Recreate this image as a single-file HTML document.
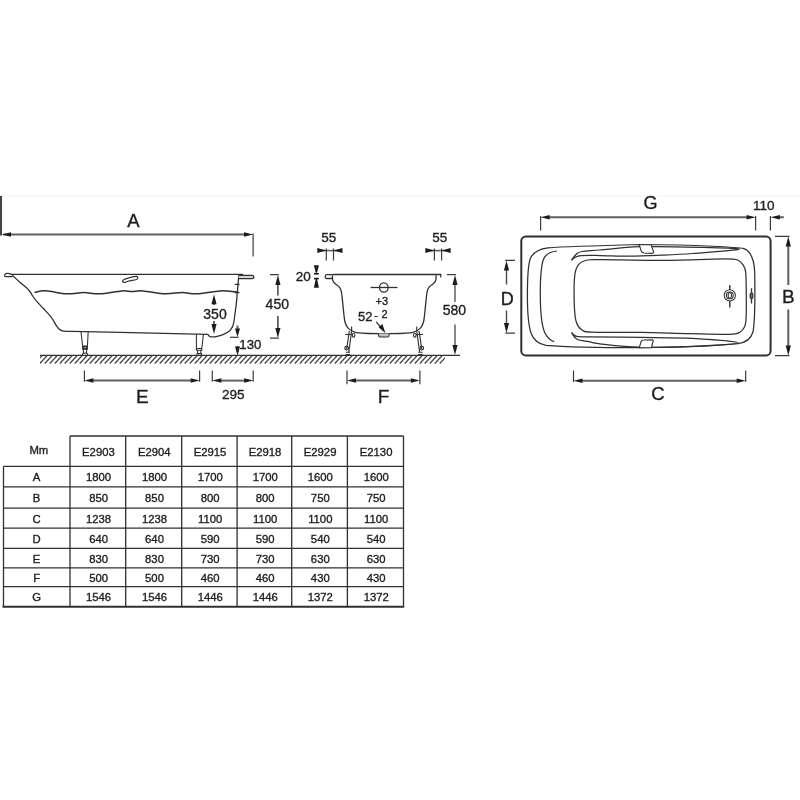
<!DOCTYPE html>
<html><head><meta charset="utf-8"><style>
html,body{margin:0;padding:0;background:#fff;width:800px;height:800px;overflow:hidden}
svg{display:block}
text{font-family:"Liberation Sans",sans-serif;fill:#1e1e1e;stroke:#1e1e1e;stroke-width:0.35}
.ln{fill:none;stroke:#303030;stroke-linecap:butt;stroke-linejoin:round}
.dm{fill:none;stroke:#606060;stroke-linecap:butt;stroke-linejoin:miter}
.fill{fill:#1c1c1c;stroke:none}
.ex{fill:none;stroke:#3c3c3c;stroke-width:1.2;stroke-linecap:square}
svg{filter:grayscale(100%)}
</style></head><body>
<svg width="800" height="800" viewBox="0 0 800 800">
<path d="M0 196.2H800" stroke="#f6f6f6" stroke-width="1.5" fill="none"/>
<g class="ln">
<path d="M1 196V235.5" stroke-width="2.1" style="stroke:#454545"/>
<path class="dm" d="M3 234.6H245" stroke-width="2"/><path class="ex" d="M253.1 233.8V256"/>
</g>
<g class="fill"><polygon points="2.00,234.60 11.00,232.35 11.00,236.85"/><polygon points="253.00,234.60 244.00,232.35 244.00,236.85"/></g>
<text x="133.3" y="227" font-size="18.5" text-anchor="middle">A</text>
<g class="ln" stroke-width="1.3">
<path d="M12 274.4H243"/>
<path d="M12.6 276.5C9 276.8 6 277 4.8 276.2C3.8 275.2 5.5 273.4 7.5 273.4C9.5 273.4 11 274.3 12 274.4"/>
<path d="M12.50 275.30C13.67 276.42 17.17 279.93 19.50 282.00C21.83 284.07 24.83 286.20 26.50 287.70C28.17 289.20 28.42 289.53 29.50 291.00C30.58 292.47 31.75 294.72 33.00 296.50C34.25 298.28 35.32 299.73 37.00 301.70C38.68 303.67 41.05 306.12 43.10 308.30C45.15 310.48 47.65 312.88 49.30 314.80C50.95 316.72 51.83 318.00 53.00 319.80C54.17 321.60 55.17 323.97 56.30 325.60C57.43 327.23 58.50 328.67 59.80 329.60C61.10 330.53 62.07 330.90 64.10 331.20C66.13 331.50 70.68 331.37 72.00 331.40L120 332.3L207.6 334.4C208.9 335 209 336.9 211 336.9L215 336.9C220 336.2 226 333.8 230 330.6C232.4 328 233.4 326 233.9 322L236.3 304L238.8 275.4"/>
<path d="M238.8 275.3H251.8C254.3 275.3 254.6 278.7 252 278.7H238.9" style="fill:#d8d8d8"/>
<path d="M34.60 292.30C36.45 292.05 40.35 290.55 45.70 290.80C51.05 291.05 60.35 293.52 66.70 293.80C73.05 294.08 78.32 292.50 83.80 292.50C89.28 292.50 93.25 294.07 99.60 293.80C105.95 293.53 116.50 291.27 121.90 290.90C127.30 290.53 128.50 291.60 132.00 291.60C135.50 291.60 137.37 290.53 142.90 290.90C148.43 291.27 158.65 293.53 165.20 293.80C171.75 294.07 176.95 292.50 182.20 292.50C187.45 292.50 190.35 294.07 196.70 293.80C203.05 293.53 213.50 291.17 220.30 290.90C227.10 290.63 234.63 291.98 237.50 292.20" stroke-width="1.5"/>
<path d="M234.8 284.4H239.6M234.6 292.5H239.4"/>
<path d="M122.6 281.5C122.2 280 125 279 128 278.2C131 277.2 134 276.2 136.5 276.4C138.3 276.6 138.3 278.6 136.3 279.5C134 280.4 130.5 280.4 128 281.3C126 282.2 123.2 283 122.6 281.5Z" stroke-width="1.2"/>
<path d="M81 331.6L82.6 346M88.2 331.6L87.4 346M82.6 346H87.4V349.2H82.6ZM83.4 349.2V353M86.6 349.2V353M82.2 355.2C82.2 353.6 83 353 85 353C87 353 87.8 353.6 87.8 355.2" stroke-width="1.05"/>
<rect x="83" y="346.6" width="4" height="2" fill="#bbb"/>
<path d="M196.4 334.6V350M203.4 334.6L201.6 350M196.4 348.4H201.8V350.3H196.4ZM197.6 350.3V353.6M200.8 350.3V353.6M197 355.2V353.6H201.5V355.2" stroke-width="1.05"/>
</g>
<g class="dm" stroke-width="1.6" style="stroke:#444"><path d="M214 300V305M214 321V326"/></g>
<g class="fill"><polygon points="214.00,294.30 211.40,304.30 216.60,304.30"/><polygon points="214.00,334.00 211.40,324.00 216.60,324.00"/></g>
<text x="215" y="318.6" font-size="14" text-anchor="middle">350</text>
<g class="dm" stroke-width="2"><path d="M237.5 325.5V333M237.5 346V352"/></g><path class="ex" d="M230.6 337.3H238.1"/>
<g class="fill"><polygon points="237.50,337.00 235.00,328.50 240.00,328.50"/><polygon points="237.50,356.00 237.50,356.01 237.50,356.01"/><polygon points="237.50,355.50 235.00,346.50 240.00,346.50"/></g>
<text x="239.3" y="348.8" font-size="13.2">130</text>
<g class="dm" stroke-width="1.6" style="stroke:#505050"><path d="M277.9 280V295.5M277.9 316V333"/></g><path class="ex" d="M270.6 274.6H278.2M270.6 338.2H278.2"/>
<g class="fill"><polygon points="277.90,275.00 275.30,285.00 280.50,285.00"/><polygon points="277.90,338.00 275.30,328.00 280.50,328.00"/></g>
<text x="277.3" y="308.7" font-size="14" text-anchor="middle">450</text>
<g class="ln"><path d="M40 355.4H460" stroke-width="1.3"/></g>
<clipPath id="hc"><rect x="40" y="355" width="405" height="10"/></clipPath>
<g fill="none" stroke="#454545" stroke-width="1.25" clip-path="url(#hc)"><path d="M42.0 355.8L34.8 363.5M47.0 355.8L39.8 363.5M52.0 355.8L44.8 363.5M57.0 355.8L49.8 363.5M62.0 355.8L54.8 363.5M67.0 355.8L59.8 363.5M72.0 355.8L64.8 363.5M77.0 355.8L69.8 363.5M82.0 355.8L74.8 363.5M87.0 355.8L79.8 363.5M92.0 355.8L84.8 363.5M97.0 355.8L89.8 363.5M102.0 355.8L94.8 363.5M107.0 355.8L99.8 363.5M112.0 355.8L104.8 363.5M117.0 355.8L109.8 363.5M122.0 355.8L114.8 363.5M127.0 355.8L119.8 363.5M132.0 355.8L124.8 363.5M137.0 355.8L129.8 363.5M142.0 355.8L134.8 363.5M147.0 355.8L139.8 363.5M152.0 355.8L144.8 363.5M157.0 355.8L149.8 363.5M162.0 355.8L154.8 363.5M167.0 355.8L159.8 363.5M172.0 355.8L164.8 363.5M177.0 355.8L169.8 363.5M182.0 355.8L174.8 363.5M187.0 355.8L179.8 363.5M192.0 355.8L184.8 363.5M197.0 355.8L189.8 363.5M202.0 355.8L194.8 363.5M207.0 355.8L199.8 363.5M212.0 355.8L204.8 363.5M217.0 355.8L209.8 363.5M222.0 355.8L214.8 363.5M227.0 355.8L219.8 363.5M232.0 355.8L224.8 363.5M237.0 355.8L229.8 363.5M242.0 355.8L234.8 363.5M247.0 355.8L239.8 363.5M252.0 355.8L244.8 363.5M257.0 355.8L249.8 363.5M262.0 355.8L254.8 363.5M267.0 355.8L259.8 363.5M272.0 355.8L264.8 363.5M277.0 355.8L269.8 363.5M282.0 355.8L274.8 363.5M287.0 355.8L279.8 363.5M292.0 355.8L284.8 363.5M297.0 355.8L289.8 363.5M302.0 355.8L294.8 363.5M307.0 355.8L299.8 363.5M312.0 355.8L304.8 363.5M317.0 355.8L309.8 363.5M322.0 355.8L314.8 363.5M327.0 355.8L319.8 363.5M332.0 355.8L324.8 363.5M337.0 355.8L329.8 363.5M342.0 355.8L334.8 363.5M347.0 355.8L339.8 363.5M352.0 355.8L344.8 363.5M357.0 355.8L349.8 363.5M362.0 355.8L354.8 363.5M367.0 355.8L359.8 363.5M372.0 355.8L364.8 363.5M377.0 355.8L369.8 363.5M382.0 355.8L374.8 363.5M387.0 355.8L379.8 363.5M392.0 355.8L384.8 363.5M397.0 355.8L389.8 363.5M402.0 355.8L394.8 363.5M407.0 355.8L399.8 363.5M412.0 355.8L404.8 363.5M417.0 355.8L409.8 363.5M422.0 355.8L414.8 363.5M427.0 355.8L419.8 363.5M432.0 355.8L424.8 363.5M437.0 355.8L429.8 363.5M442.0 355.8L434.8 363.5M447.0 355.8L439.8 363.5"/></g>
<g class="dm" stroke-width="2"><path d="M90 380.6H194"/></g><path class="ex" d="M84.4 371.2V381.2M199.6 371.2V381.2"/>
<g class="fill"><polygon points="84.40,380.60 93.40,378.35 93.40,382.85"/><polygon points="199.70,380.60 190.70,378.35 190.70,382.85"/></g>
<text x="142.3" y="402.8" font-size="19" text-anchor="middle">E</text>
<g class="dm" stroke-width="2"><path d="M218 380.6H247"/></g><path class="ex" d="M212.3 371.2V381.2M253.2 371.2V381.2"/>
<g class="fill"><polygon points="212.30,380.60 221.30,378.35 221.30,382.85"/><polygon points="253.20,380.60 244.20,378.35 244.20,382.85"/></g>
<text x="233.2" y="399.4" font-size="13.5" text-anchor="middle">295</text>
<g class="dm" stroke-width="1.6"><path d="M321.3 250.6H338.5"/></g><path class="ex" d="M326.3 249V260M333.5 249V260"/>
<g class="fill"><polygon points="326.30,250.60 317.30,248.10 317.30,253.10"/><polygon points="333.50,250.60 342.50,248.10 342.50,253.10"/></g>
<text x="328.7" y="241.9" font-size="13.5" text-anchor="middle">55</text>
<g class="dm" stroke-width="1.6"><path d="M429.4 250.6H446.6"/></g><path class="ex" d="M434.4 249V260M441.6 249V260"/>
<g class="fill"><polygon points="434.40,250.60 425.40,248.10 425.40,253.10"/><polygon points="441.60,250.60 450.60,248.10 450.60,253.10"/></g>
<text x="439.7" y="241.9" font-size="13.5" text-anchor="middle">55</text>
<g class="fill"><polygon points="313.9,265.2 318.9,265.2 317.1,272.8 315.7,272.8"/><rect x="314" y="273" width="4.8" height="1.6"/><rect x="314" y="277.8" width="4.8" height="1.6"/><polygon points="315.7,279 317.1,279 318.9,287.7 313.9,287.7"/></g>
<text x="303.3" y="281.1" font-size="13.5" text-anchor="middle">20</text>
<g class="ln" stroke-width="1.3">
<path d="M332.5 274.5H440.8V277.5"/>
<path d="M332.5 274.6H326.5C324.8 274.6 324.8 278.5 326.5 278.5H333"/>
<path d="M332.40 275.20C332.47 276.08 332.30 279.05 332.80 280.50C333.30 281.95 334.27 282.77 335.40 283.90C336.53 285.03 338.60 285.98 339.60 287.30C340.60 288.62 340.90 289.38 341.40 291.80C341.90 294.22 342.18 298.02 342.60 301.80C343.02 305.58 343.47 311.00 343.90 314.50C344.33 318.00 344.50 320.53 345.20 322.80C345.90 325.07 346.77 326.65 348.10 328.10C349.43 329.55 351.50 330.70 353.20 331.50C354.90 332.30 355.83 332.57 358.30 332.90C360.77 333.23 363.68 333.38 368.00 333.50C372.32 333.62 378.78 333.60 384.20 333.60C389.62 333.60 396.17 333.62 400.50 333.50C404.83 333.38 407.73 333.23 410.20 332.90C412.67 332.57 413.60 332.30 415.30 331.50C417.00 330.70 419.07 329.55 420.40 328.10C421.73 326.65 422.60 325.07 423.30 322.80C424.00 320.53 424.17 318.00 424.60 314.50C425.03 311.00 425.48 305.58 425.90 301.80C426.32 298.02 426.60 294.22 427.10 291.80C427.60 289.38 427.90 288.62 428.90 287.30C429.90 285.98 431.97 285.03 433.10 283.90C434.23 282.77 435.20 281.95 435.70 280.50C436.20 279.05 436.03 276.08 436.10 275.20"/>
<path d="M378.3 333.6L378.8 336.4C379 337 379.5 337 380 337H387.5C388.2 337 388.6 337 388.8 336.4L389.3 333.6" stroke-width="1.1" style="fill:#c4c4c4"/>
</g>
<g class="ln" stroke-width="1.3"><path d="M370.6 287.5H397.5"/><ellipse cx="383.8" cy="287.5" rx="4.3" ry="4.6"/></g>
<text x="381.8" y="305" font-size="11" text-anchor="middle">+3</text>
<text x="365.2" y="320.6" font-size="13" text-anchor="middle">52</text>
<text x="376.2" y="318.5" font-size="11" text-anchor="middle">-</text>
<text x="384.5" y="318" font-size="11" text-anchor="middle">2</text>
<g class="ln" stroke-width="1.2"><path d="M376.2 321.9L381 327.5"/></g>
<g class="fill"><polygon points="385.5,333.2 378.6,327.2 382.4,324.1"/></g>
<g class="ln" stroke-width="1.15">
<path d="M416.8 331L419.6 352M419.1 331L421.8 349.5M416.0 334.5H423.2 M416.8 326.5V331.5M418.4 352.2H422.6 M418.2 354.6H422.8"/><ellipse cx="414.8" cy="335.2" rx="1.3" ry="2"/><circle cx="421.8" cy="348.2" r="1.8"/>
<path d="M351.6 331L348.8 352M349.3 331L346.6 349.5M352.4 334.5H345.2 M351.6 326.5V331.5M350.0 352.2H345.8 M350.2 354.6H345.6"/><ellipse cx="353.6" cy="335.2" rx="1.3" ry="2"/><circle cx="346.6" cy="348.2" r="1.8"/>
</g>
<g class="dm" stroke-width="2" style="stroke:#888"><path d="M455 280V302M455 324.4V350"/></g><path class="ex" d="M447.5 274.6H455.4"/>
<g class="fill"><polygon points="455.00,275.00 452.40,285.00 457.60,285.00"/><polygon points="455.00,355.00 452.40,345.00 457.60,345.00"/></g>
<text x="454.4" y="315" font-size="14" text-anchor="middle">580</text>
<g class="dm" stroke-width="2"><path d="M352 380.5H414"/></g><path class="ex" d="M347 371.2V383.6M419.9 371.2V383.6"/>
<g class="fill"><polygon points="347.00,380.50 356.00,378.25 356.00,382.75"/><polygon points="419.90,380.50 410.90,378.25 410.90,382.75"/></g>
<text x="383.6" y="402.7" font-size="19" text-anchor="middle">F</text>
<g class="dm" stroke-width="2"><path d="M546 217.2H750M776 217.2H783.8"/></g><path class="ex" d="M540.6 230V216.6M755.6 230V216.6M770.4 230V216.6"/>
<g class="fill"><polygon points="540.60,217.20 549.60,214.95 549.60,219.45"/><polygon points="755.60,217.20 746.60,214.95 746.60,219.45"/><polygon points="770.40,217.20 779.90,214.95 779.90,219.45"/></g>
<text x="650.6" y="209.4" font-size="18" text-anchor="middle">G</text>
<text x="763.7" y="210" font-size="13.5" text-anchor="middle">110</text>
<rect class="ln" x="521.3" y="236.6" width="249.3" height="118.8" rx="4.5" stroke-width="2"/>
<g class="ln" stroke-width="1.25">
<path d="M640 244.5C600 245.6 565 246.6 548 247.8C539 248.8 533.5 252 530.5 258C528 264 527.4 280 527.4 296C527.4 312 528 324 531 333C533.5 340 538 344 546 345.3C560 346.5 600 347.6 640 347.6C680 347.2 715 345.8 738 343.6C746 342.6 751 338.5 753 332C754.8 322 755 290 754.7 272C754.2 260 751 251.5 744 248.6C738 247.3 700 245 640 244.5Z"/>
<path d="M557 251C550 251.7 546 254 543.8 258.5C541 265 540.3 278 540.3 293C540.3 310 541.5 325 544.6 332.2C547 337.5 550 340 554.2 341.8"/>
<path d="M571.40 260.40C572.17 259.42 574.23 255.98 576.00 254.50C577.77 253.02 578.00 252.25 582.00 251.50C586.00 250.75 590.33 250.80 600.00 250.00C609.67 249.20 623.33 247.15 640.00 246.70C656.67 246.25 683.50 246.87 700.00 247.30C716.50 247.73 740.25 248.27 739.00 249.30C737.75 250.33 705.67 252.52 692.50 253.50C679.33 254.48 670.42 254.77 660.00 255.20C649.58 255.63 640.00 256.05 630.00 256.10C620.00 256.15 608.17 255.58 600.00 255.50C591.83 255.42 585.17 255.27 581.00 255.60C576.83 255.93 576.60 256.70 575.00 257.50C573.40 258.30 572.00 259.92 571.40 260.40"/>
<path d="M571.40 332.40C572.17 333.03 573.32 335.45 576.00 336.20C578.68 336.95 576.83 336.70 587.50 336.90C598.17 337.10 622.50 337.15 640.00 337.40C657.50 337.65 676.17 337.48 692.50 338.40C708.83 339.32 738.00 341.58 738.00 342.90C738.00 344.22 708.83 345.58 692.50 346.30C676.17 347.02 655.42 347.62 640.00 347.20C624.58 346.78 608.50 344.72 600.00 343.80C591.50 342.88 592.83 342.45 589.00 341.70C585.17 340.95 579.93 340.85 577.00 339.30C574.07 337.75 572.33 333.55 571.40 332.40"/>
<path d="M604.00 259.70C616.08 259.77 640.00 260.53 660.00 260.40C680.00 260.27 711.08 258.97 724.00 258.90C736.92 258.83 734.30 258.95 737.50 260.00C740.70 261.05 741.83 263.12 743.20 265.20C744.57 267.28 745.18 267.37 745.70 272.50C746.22 277.63 746.23 288.42 746.30 296.00C746.37 303.58 746.38 312.87 746.10 318.00C745.82 323.13 745.65 324.43 744.60 326.80C743.55 329.17 742.23 330.95 739.80 332.20C737.37 333.45 738.30 334.05 730.00 334.30C721.70 334.55 705.00 334.02 690.00 333.70C675.00 333.38 656.33 332.65 640.00 332.40C623.67 332.15 601.75 332.67 592.00 332.20C582.25 331.73 584.17 331.47 581.50 329.60C578.83 327.73 577.22 325.60 576.00 321.00C574.78 316.40 574.40 309.67 574.20 302.00C574.00 294.33 574.03 281.27 574.80 275.00C575.57 268.73 576.68 266.90 578.80 264.40C580.92 261.90 583.30 260.78 587.50 260.00C591.70 259.22 591.92 259.63 604.00 259.70Z"/>
</g>
<g class="ln" stroke-width="1.1" style="fill:#fff">
<path d="M639.3 244.8L651 244.8L653.6 251.6C653.9 253 653 253.4 651.5 253.4L644 253C642.5 252.8 641.5 252 641 250.5Z"/>
<path d="M639.2 347.8L641.3 341C641.8 340.2 642.5 340 644 340L652.5 339.8C653.2 340 653.3 340.8 653 341.5L651.4 347.8Z"/>
</g>
<g class="ln" stroke-width="1.05"><circle cx="729.8" cy="295.4" r="5.6"/><circle cx="729.8" cy="295.4" r="3.4"/><rect x="728.2" y="292.7" width="3.2" height="5.5" rx="1.6"/><path d="M729.8 285V289.8M729.8 301V307.5" stroke-width="1.4"/><path d="M751.5 288.3V292.6M751.5 298.8V303.6" stroke-width="1.3"/><ellipse cx="751.5" cy="295.7" rx="1.5" ry="3" style="fill:#666"/></g>
<g class="dm" stroke-width="1.4" style="stroke:#4a4a4a"><path d="M506.5 266V284.4M506.5 310.6V327"/></g><path class="ex" d="M514.4 260.3H505.9M514.4 333.1H505.9"/>
<g class="fill"><polygon points="506.50,260.40 503.90,270.40 509.10,270.40"/><polygon points="506.50,333.10 503.90,323.10 509.10,323.10"/></g>
<text x="507.2" y="305" font-size="18" text-anchor="middle">D</text>
<g class="dm" stroke-width="2"><path d="M788.3 242V285M788.3 309.4V350"/></g><path class="ex" d="M775.6 236.3H788.9M775.6 355.6H788.9"/>
<g class="fill"><polygon points="788.30,236.50 785.70,246.50 790.90,246.50"/><polygon points="788.30,355.40 785.70,345.40 790.90,345.40"/></g>
<text x="788.4" y="303.1" font-size="19" text-anchor="middle">B</text>
<g class="dm" stroke-width="2"><path d="M579 380.7H740"/></g><path class="ex" d="M573.5 371.2V381.3M745.7 371.2V381.3"/>
<g class="fill"><polygon points="573.50,380.70 582.50,378.45 582.50,382.95"/><polygon points="745.70,380.70 736.70,378.45 736.70,382.95"/></g>
<text x="658" y="400.2" font-size="18.5" text-anchor="middle">C</text>
<g class="ln" stroke-width="1.3"><path d="M70.0 436.0H403.5M3.5 466.3H403.5M3.5 486.9H403.5M3.5 508.2H403.5M3.5 528.2H403.5M3.5 548.4H403.5M3.5 567.9H403.5M3.5 586.6H403.5M3.5 466.3V606.8M70.0 436.0V606.8M125.7 436.0V606.8M181.7 436.0V606.8M237.1 436.0V606.8M291.7 436.0V606.8M347.4 436.0V606.8M403.5 436.0V606.8"/></g>
<path class="ln" d="M2.5 606.8H404.2" stroke-width="2"/>
<g font-size="11.3" text-anchor="middle" style="stroke-width:0.25"><text x="38.8" y="453.6">Mm</text><text x="98.4" y="456">E2903</text><text x="154.3" y="456">E2904</text><text x="210.0" y="456">E2915</text><text x="265.0" y="456">E2918</text><text x="320.1" y="456">E2929</text><text x="376.1" y="456">E2130</text><text x="36.6" y="481.2">A</text><text x="98.6" y="481.2">1800</text><text x="154.5" y="481.2">1800</text><text x="210.2" y="481.2">1700</text><text x="265.2" y="481.2">1700</text><text x="320.3" y="481.2">1600</text><text x="376.2" y="481.2">1600</text><text x="36.6" y="502.1">B</text><text x="98.6" y="502.1">850</text><text x="154.5" y="502.1">850</text><text x="210.2" y="502.1">800</text><text x="265.2" y="502.1">800</text><text x="320.3" y="502.1">750</text><text x="376.2" y="502.1">750</text><text x="36.6" y="522.8">C</text><text x="98.6" y="522.8">1238</text><text x="154.5" y="522.8">1238</text><text x="210.2" y="522.8">1100</text><text x="265.2" y="522.8">1100</text><text x="320.3" y="522.8">1100</text><text x="376.2" y="522.8">1100</text><text x="36.6" y="542.9">D</text><text x="98.6" y="542.9">640</text><text x="154.5" y="542.9">640</text><text x="210.2" y="542.9">590</text><text x="265.2" y="542.9">590</text><text x="320.3" y="542.9">540</text><text x="376.2" y="542.9">540</text><text x="36.6" y="562.8">E</text><text x="98.6" y="562.8">830</text><text x="154.5" y="562.8">830</text><text x="210.2" y="562.8">730</text><text x="265.2" y="562.8">730</text><text x="320.3" y="562.8">630</text><text x="376.2" y="562.8">630</text><text x="36.6" y="581.9">F</text><text x="98.6" y="581.9">500</text><text x="154.5" y="581.9">500</text><text x="210.2" y="581.9">460</text><text x="265.2" y="581.9">460</text><text x="320.3" y="581.9">430</text><text x="376.2" y="581.9">430</text><text x="36.6" y="601.3">G</text><text x="98.6" y="601.3">1546</text><text x="154.5" y="601.3">1546</text><text x="210.2" y="601.3">1446</text><text x="265.2" y="601.3">1446</text><text x="320.3" y="601.3">1372</text><text x="376.2" y="601.3">1372</text></g>
</svg></body></html>
